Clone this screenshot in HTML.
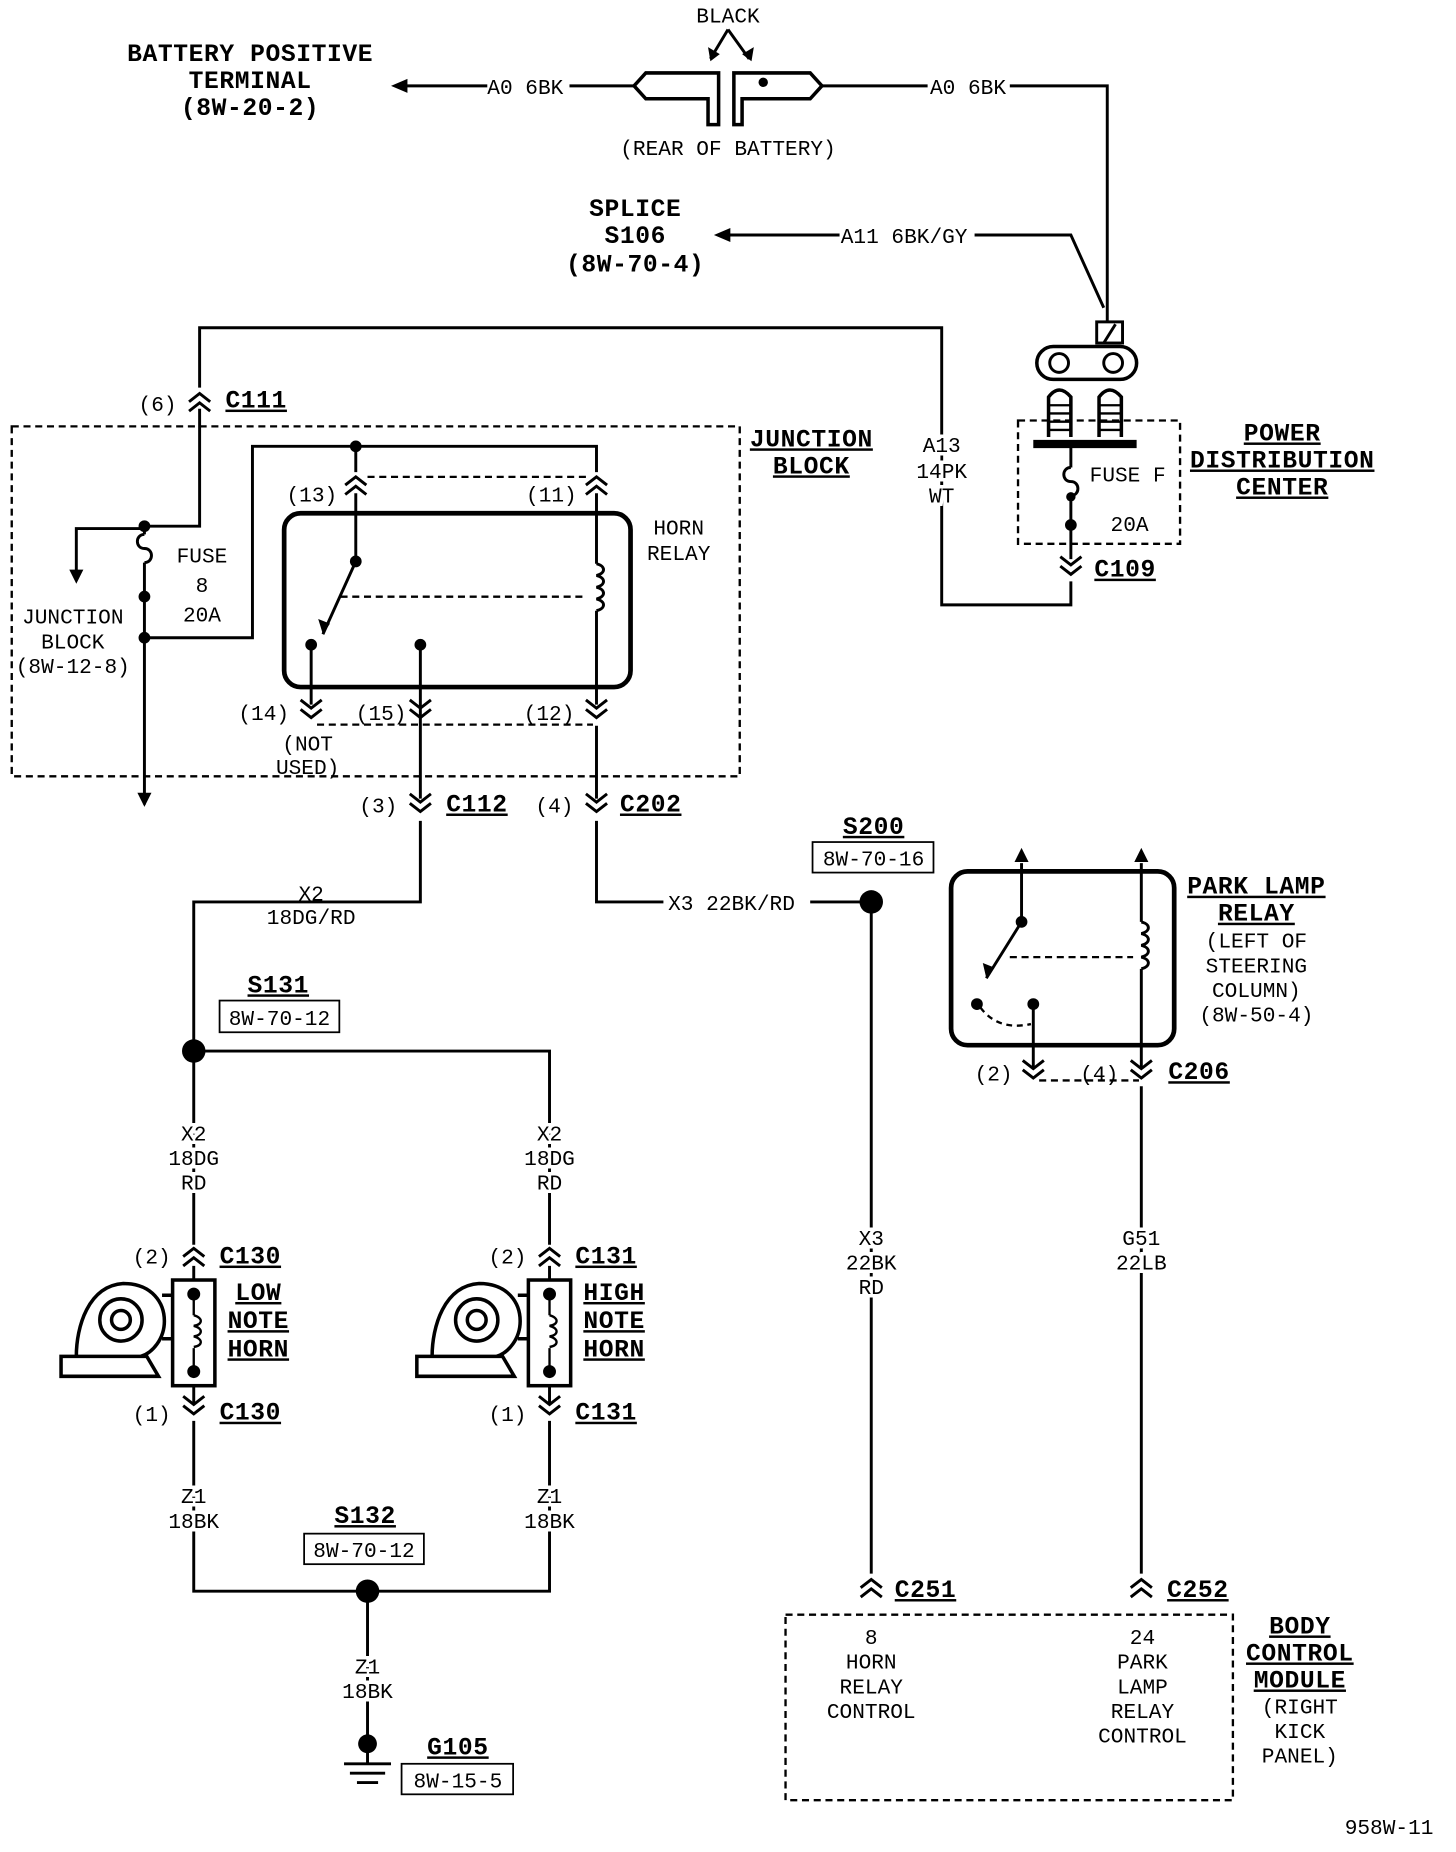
<!DOCTYPE html>
<html><head><meta charset="utf-8"><style>
html,body{margin:0;padding:0;background:#fff}
svg{display:block}
text{font-family:"Liberation Mono",monospace;font-size:18px;fill:#000}
.b{font-weight:bold;font-size:21px;letter-spacing:0.5px}
.m{text-anchor:middle}
.w{stroke:#fff;stroke-width:6;paint-order:stroke}
</style></head><body>
<svg width="1456" height="1852" viewBox="0 0 1240 1577" xmlns="http://www.w3.org/2000/svg">
<defs>
<path id="cu" d="M-9,5 L0,-2 L9,5 M-9,13 L0,6 L9,13" fill="none" stroke="#000" stroke-width="2.5"/>
<path id="cd" d="M-9,-5 L0,2 L9,-5 M-9,-13 L0,-6 L9,-13" fill="none" stroke="#000" stroke-width="2.5"/>
<g id="horn" fill="none" stroke="#000" stroke-width="3">
<rect x="-18" y="1090" width="36" height="90" fill="#fff"/>
<path d="M-113,1155 H-40 L-30,1172 H-113 Z" fill="#fff"/>
<path d="M-100,1155 C-100,1130 -90,1095 -60,1093 C-35,1093 -25,1110 -25,1125 C-25,1140 -35,1152 -45,1155"/>
<circle cx="-62" cy="1124" r="18"/><circle cx="-62" cy="1124" r="8"/>
<path d="M-27,1103 H-18 M-27,1140 H-18"/>
<circle cx="0" cy="1102" r="4" fill="#000"/><circle cx="0" cy="1168" r="4" fill="#000"/>
<path d="M0,1106 V1120 M0,1148 V1164" stroke-width="2"/>
<path d="M0,1120 c8,2 8,8 0,9 c8,2 8,8 0,9 c8,2 8,8 0,9" stroke-width="2"/>
</g>
<g id="coil" fill="none" stroke="#000" stroke-width="2.5"><path d="M0,0 c8,2 8,8 0,10 c8,2 8,8 0,10 c8,2 8,8 0,10 c8,2 8,8 0,10"/></g>
<g id="fuse" fill="none" stroke="#000" stroke-width="2.5"><path d="M0,0 c-8,0 -8,12 0,12 c8,0 8,12 0,12"/></g>
</defs>
<g fill="none" stroke="#000" stroke-width="2.5">
<path d="M415,73 H345"/><path d="M485,73 H540"/>
<path d="M540,73 L550,62 H612 V106 H603 V84 H550 Z" stroke-width="3"/>
<path d="M625,62 H690 L700,73 L690,84 H632 V106 H625 Z" stroke-width="3"/>
<path d="M620,25 L605,50 M620,25 L638,50"/>
<path d="M700,73 H790 M860,73 H943 V275"/>
<path d="M620,200 H715 M830,200 H912 L940,262"/>
<rect x="934" y="274" width="22" height="18"/><path d="M940,292 L950,276"/>
<rect x="883" y="295" width="85" height="28" rx="14" stroke-width="3"/>
<circle cx="902" cy="309" r="8"/><circle cx="948" cy="309" r="8"/>
<path d="M893,372 V338 q9,-12 19,0 V372 M936,372 V338 q9,-12 19,0 V372" stroke-width="3"/>
<path d="M893,345 H912 M893,352 H912 M893,359 H912 M893,366 H912 M936,345 H955 M936,352 H955 M936,359 H955 M936,366 H955" stroke-width="2"/>
<path d="M880,378 H968" stroke-width="7"/>
<rect x="867" y="358" width="138" height="105" stroke-dasharray="6,4" stroke-width="2"/>
<path d="M912,381 V398 M912,422 V476 M912,495 V515 H802 V279 H170 V330 M170,348 V448 H123"/>
<rect x="10" y="363" width="620" height="298" stroke-dasharray="6,4" stroke-width="2"/>
<path d="M123,450 H65 V486"/>
<path d="M123,448 V455 M123,479 V685"/>
<path d="M123,543 H215 V380 H508 V402 M303,380 V402"/>
<path d="M313,406 H500" stroke-dasharray="6,4" stroke-width="2"/>
<rect x="242" y="437" width="295" height="148" rx="14" stroke-width="4"/>
<path d="M303,420 V478 L275,540"/>
<path d="M290,508 H500" stroke-dasharray="6,4" stroke-width="2"/>
<path d="M508,420 V480 M508,520 V600 M265,549 V600 M358,549 V680 M358,699 V768 H165 V895 H468 V1060"/>
<path d="M270,617 H505" stroke-dasharray="6,4" stroke-width="2"/>
<path d="M508,618 V680 M508,699 V768 H565 M690,768 H742 V1340"/>
<path d="M165,895 V1060 M165,1078 V1195 M468,1078 V1195 M165,1210 V1355 H468 V1210 M313,1355 V1485"/>
<path d="M293,1502 H333 M298,1510 H328 M304,1518 H322 M313,1485 V1502"/>
<rect x="810" y="742" width="190" height="148" rx="14" stroke-width="4"/>
<path d="M870,735 V785 L840,833 M972,735 V785 M972,825 V910 M880,855 V910"/>
<path d="M860,815 H965" stroke-dasharray="6,4" stroke-width="2"/>
<path d="M835,858 Q850,878 878,872" stroke-dasharray="5,4" stroke-width="2"/>
<path d="M885,920 H970" stroke-dasharray="6,4" stroke-width="2"/>
<path d="M972,925 V1340"/>
<rect x="669" y="1375" width="381" height="158" stroke-dasharray="6,4" stroke-width="2"/>
<rect x="692" y="717" width="103" height="26" stroke-width="1.5"/>
<rect x="187" y="852" width="102" height="27" stroke-width="1.5"/>
<rect x="259" y="1306" width="102" height="26" stroke-width="1.5"/>
<rect x="342" y="1502" width="95" height="26" stroke-width="1.5"/>
</g>
<use href="#fuse" x="912" y="398"/><use href="#fuse" x="123" y="455"/>
<use href="#coil" x="508" y="480"/><use href="#coil" x="972" y="785"/>
<path d="M333,73 L347,67 L347,79 Z M608,200 L622,194 L622,206 Z M605,52 L603,40 L613,46 Z M640,52 L632,46 L642,40 Z M65,497 L59,485 L71,485 Z M123,687 L117,675 L129,675 Z M870,722 L864,734 L876,734 Z M972,722 L966,734 L978,734 Z M275,540 L271,527 L281,531 Z M840,833 L837,820 L847,824 Z"/>
<g fill="#000">
<circle cx="650" cy="70" r="4"/><circle cx="912" cy="423" r="4"/><circle cx="912" cy="447" r="5"/>
<circle cx="123" cy="448" r="5"/><circle cx="123" cy="508" r="5"/><circle cx="123" cy="543" r="5"/>
<circle cx="303" cy="380" r="5"/><circle cx="303" cy="478" r="5"/><circle cx="265" cy="549" r="5"/><circle cx="358" cy="549" r="5"/>
<circle cx="742" cy="768" r="10"/><circle cx="165" cy="895" r="10"/><circle cx="313" cy="1355" r="10"/><circle cx="313" cy="1485" r="8"/>
<circle cx="870" cy="785" r="5"/><circle cx="832" cy="855" r="5"/><circle cx="880" cy="855" r="5"/>
</g>
<use href="#cd" x="912" y="487"/>
<use href="#cu" x="170" y="337"/>
<use href="#cu" x="303" y="408"/><use href="#cu" x="508" y="408"/>
<use href="#cd" x="265" y="609"/><use href="#cd" x="358" y="609"/><use href="#cd" x="508" y="609"/>
<use href="#cd" x="358" y="689"/><use href="#cd" x="508" y="689"/>
<use href="#cd" x="880" y="916"/><use href="#cd" x="972" y="916"/>
<use href="#cu" x="165" y="1065"/><use href="#cu" x="468" y="1065"/>
<use href="#cd" x="165" y="1202"/><use href="#cd" x="468" y="1202"/>
<use href="#cu" x="742" y="1347"/><use href="#cu" x="972" y="1347"/>
<use href="#horn" x="165"/><use href="#horn" x="468"/>
<text class="b m" x="213" y="52">BATTERY POSITIVE</text>
<text class="b m" x="213" y="75">TERMINAL</text>
<text class="b m" x="213" y="98">(8W-20-2)</text>
<text x="415" y="80">A0 6BK</text>
<text class="m" x="620" y="19">BLACK</text>
<text class="m" x="620" y="132">(REAR OF BATTERY)</text>
<text x="792" y="80">A0 6BK</text>
<text class="b m" x="541" y="184">SPLICE</text>
<text class="b m" x="541" y="207">S106</text>
<text class="b m" x="541" y="231">(8W-70-4)</text>
<text x="716" y="207">A11 6BK/GY</text>
<text class="b m" x="1092" y="375" text-decoration="underline">POWER</text>
<text class="b m" x="1092" y="398" text-decoration="underline">DISTRIBUTION</text>
<text class="b m" x="1092" y="421" text-decoration="underline">CENTER</text>
<text x="928" y="410">FUSE F</text>
<text class="m" x="962" y="452">20A</text>
<text class="b" x="932" y="491" text-decoration="underline">C109</text>
<text class="m w" x="802" y="385">A13</text>
<text class="m w" x="802" y="407">14PK</text>
<text class="m w" x="802" y="428">WT</text>
<text x="118" y="350">(6)</text>
<text class="b" x="192" y="347" text-decoration="underline">C111</text>
<text class="b m" x="691" y="380" text-decoration="underline">JUNCTION</text>
<text class="b m" x="691" y="403" text-decoration="underline">BLOCK</text>
<text class="m" x="172" y="479">FUSE</text>
<text class="m" x="172" y="504">8</text>
<text class="m" x="172" y="529">20A</text>
<text class="m" x="62" y="531">JUNCTION</text>
<text class="m" x="62" y="552">BLOCK</text>
<text class="m" x="62" y="573">(8W-12-8)</text>
<text x="244" y="427">(13)</text>
<text x="448" y="427">(11)</text>
<text class="m" x="578" y="455">HORN</text>
<text class="m" x="578" y="477">RELAY</text>
<text x="203" y="613">(14)</text>
<text x="303" y="613">(15)</text>
<text x="446" y="613">(12)</text>
<text class="m" x="262" y="639">(NOT</text>
<text class="m" x="262" y="659">USED)</text>
<text x="306" y="692">(3)</text>
<text class="b" x="380" y="691" text-decoration="underline">C112</text>
<text x="456" y="692">(4)</text>
<text class="b" x="528" y="691" text-decoration="underline">C202</text>
<text class="m" x="265" y="767">X2</text>
<text class="m" x="265" y="787">18DG/RD</text>
<text x="569" y="775">X3 22BK/RD</text>
<text class="b m" x="744" y="710" text-decoration="underline">S200</text>
<text class="m" x="744" y="737">8W-70-16</text>
<text class="b m" x="237" y="845" text-decoration="underline">S131</text>
<text class="m" x="238" y="873">8W-70-12</text>
<text class="b m" x="1070" y="761" text-decoration="underline">PARK LAMP</text>
<text class="b m" x="1070" y="784" text-decoration="underline">RELAY</text>
<text class="m" x="1070" y="807">(LEFT OF</text>
<text class="m" x="1070" y="828">STEERING</text>
<text class="m" x="1070" y="849">COLUMN)</text>
<text class="m" x="1070" y="870">(8W-50-4)</text>
<text x="830" y="920">(2)</text>
<text x="920" y="920">(4)</text>
<text class="b" x="995" y="919" text-decoration="underline">C206</text>
<text class="m w" x="165" y="971">X2</text><text class="m w" x="165" y="992">18DG</text><text class="m w" x="165" y="1013">RD</text>
<text class="m w" x="468" y="971">X2</text><text class="m w" x="468" y="992">18DG</text><text class="m w" x="468" y="1013">RD</text>
<text class="m w" x="742" y="1060">X3</text><text class="m w" x="742" y="1081">22BK</text><text class="m w" x="742" y="1102">RD</text>
<text class="m w" x="972" y="1060">G51</text><text class="m w" x="972" y="1081">22LB</text>
<text class="m w" x="165" y="1280">Z1</text><text class="m w" x="165" y="1301">18BK</text>
<text class="m w" x="468" y="1280">Z1</text><text class="m w" x="468" y="1301">18BK</text>
<text class="m w" x="313" y="1425">Z1</text><text class="m w" x="313" y="1446">18BK</text>
<text x="113" y="1076">(2)</text><text class="b" x="187" y="1076" text-decoration="underline">C130</text>
<text x="416" y="1076">(2)</text><text class="b" x="490" y="1076" text-decoration="underline">C131</text>
<text x="113" y="1210">(1)</text><text class="b" x="187" y="1209" text-decoration="underline">C130</text>
<text x="416" y="1210">(1)</text><text class="b" x="490" y="1209" text-decoration="underline">C131</text>
<text class="b m" x="220" y="1107" text-decoration="underline">LOW</text>
<text class="b m" x="220" y="1131" text-decoration="underline">NOTE</text>
<text class="b m" x="220" y="1155" text-decoration="underline">HORN</text>
<text class="b m" x="523" y="1107" text-decoration="underline">HIGH</text>
<text class="b m" x="523" y="1131" text-decoration="underline">NOTE</text>
<text class="b m" x="523" y="1155" text-decoration="underline">HORN</text>
<text class="b m" x="311" y="1297" text-decoration="underline">S132</text>
<text class="m" x="310" y="1326">8W-70-12</text>
<text class="b m" x="390" y="1494" text-decoration="underline">G105</text>
<text class="m" x="390" y="1522">8W-15-5</text>
<text class="b" x="762" y="1360" text-decoration="underline">C251</text>
<text class="b" x="994" y="1360" text-decoration="underline">C252</text>
<text class="m" x="742" y="1400">8</text><text class="m" x="742" y="1421">HORN</text><text class="m" x="742" y="1442">RELAY</text><text class="m" x="742" y="1463">CONTROL</text>
<text class="m" x="973" y="1400">24</text><text class="m" x="973" y="1421">PARK</text><text class="m" x="973" y="1442">LAMP</text><text class="m" x="973" y="1463">RELAY</text><text class="m" x="973" y="1484">CONTROL</text>
<text class="b m" x="1107" y="1391" text-decoration="underline">BODY</text>
<text class="b m" x="1107" y="1414" text-decoration="underline">CONTROL</text>
<text class="b m" x="1107" y="1437" text-decoration="underline">MODULE</text>
<text class="m" x="1107" y="1459">(RIGHT</text><text class="m" x="1107" y="1480">KICK</text><text class="m" x="1107" y="1501">PANEL)</text>
<text class="m" x="1183" y="1562">958W-11</text>
</svg>
</body></html>
